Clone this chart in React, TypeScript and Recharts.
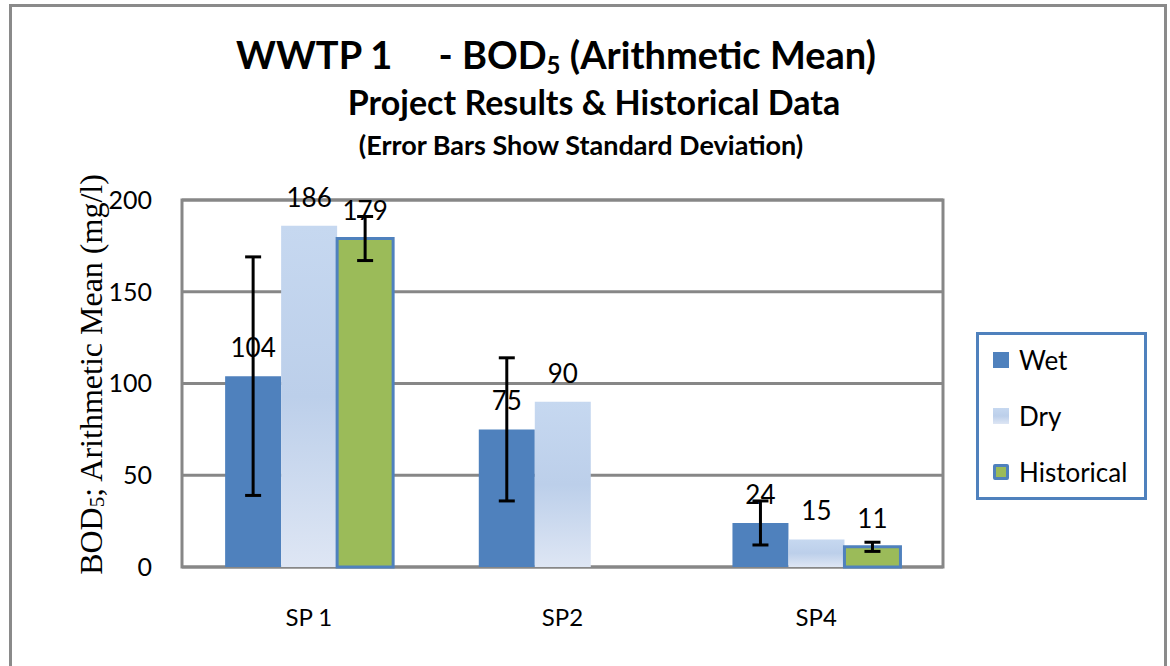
import { BarChart, Bar, XAxis, YAxis, CartesianGrid, ErrorBar, LabelList, ReferenceArea, Legend } from "recharts";

const SITES = ["SP 1", "SP2", "SP4"];
const WET = [104, 75, 24];
const DRY = [186, 90, 15];
const HISTORICAL = [179, null, 11];
const WET_SD = [65, 39, 12];
const HISTORICAL_SD = [12, null, 2.5];
const Y_TICKS = [0, 50, 100, 150, 200];

const data = SITES.map((site, i) => ({
  site,
  wet: WET[i],
  dry: DRY[i],
  historical: HISTORICAL[i],
  wetSd: WET_SD[i],
  historicalSd: HISTORICAL_SD[i],
}));

const BLUE = "#4f81bd";
const GREEN = "#9bbb59";
const GRID = "#878787";
const SANS = "Lato, 'Open Sans', sans-serif";
const DRY_GRADIENT = "linear-gradient(180deg, #c6d8f0 0%, #bccfea 50%, #dee6f4 100%)";

const LEGEND_ITEMS = [
  { name: "Wet", swatch: { background: BLUE } },
  { name: "Dry", swatch: { background: DRY_GRADIENT } },
  { name: "Historical", swatch: { background: GREEN, border: `3px solid ${BLUE}`, borderRadius: 2 } },
];

function LegendBox() {
  return (
    <div style={{ width: 165, height: 162, border: `3px solid ${BLUE}`, background: "#fff", boxSizing: "content-box", fontFamily: SANS, fontSize: 26, color: "#000" }}>
      {LEGEND_ITEMS.map((item, i) => (
        <div key={item.name} style={{ position: "absolute", left: 17, top: 14 + i * 56, display: "flex", alignItems: "center", height: 28 }}>
          <div style={{ width: 16, height: 16, boxSizing: "border-box", ...item.swatch }} />
          <span style={{ marginLeft: 10, lineHeight: "28px" }}>{item.name}</span>
        </div>
      ))}
    </div>
  );
}

function AxisTitle(props: any) {
  const { viewBox } = props;
  const x = viewBox.x - 31;
  const y = viewBox.y + viewBox.height / 2 - 9;
  return (
    <text x={x} y={y} transform={`rotate(-90, ${x}, ${y})`} textAnchor="middle" dominantBaseline="central"
      fontFamily="'Liberation Serif', 'Times New Roman', serif" fontSize={32} fill="#000">
      BOD<tspan fontSize={21} dy={6}>5</tspan><tspan dy={-6}>; Arithmetic Mean (mg/l)</tspan>
    </text>
  );
}

export default function App() {
  return (
    <div style={{ position: "relative", width: 1170, height: 666, overflow: "hidden", background: "#fff" }}>
      <style>{`body{margin:0}`}</style>
      <div style={{ position: "absolute", left: 9, top: 4, width: 1152, height: 700, border: "3px solid #8a8a8a" }} />
      <div style={{ position: "absolute", left: 0, width: 1170, top: 0, fontFamily: SANS, fontWeight: 700, color: "#000" }}>
        <div style={{ position: "absolute", top: 31, left: 556, transform: "translateX(-50%)", whiteSpace: "nowrap", fontSize: 38 }}>
          WWTP 1&nbsp;&nbsp;&nbsp;&nbsp;&nbsp;- BOD<sub style={{ fontSize: 24, verticalAlign: "-5px" }}>5</sub> (Arithmetic Mean)
        </div>
        <div style={{ position: "absolute", top: 81, left: 594, transform: "translateX(-50%)", whiteSpace: "nowrap", fontSize: 34 }}>
          Project Results &amp; Historical Data
        </div>
        <div style={{ position: "absolute", top: 128, left: 581, transform: "translateX(-50%)", whiteSpace: "nowrap", fontSize: 27 }}>
          (Error Bars Show Standard Deviation)
        </div>
      </div>
      <BarChart width={1170} height={666} data={data} margin={{ top: 200, right: 227, bottom: 69, left: 122 }}
        barCategoryGap="17%" barGap={0} style={{ position: "absolute", left: 0, top: 0 }}>
        <defs>
          <linearGradient id="dryFill" x1="0" y1="0" x2="0" y2="1">
            <stop offset="0%" stopColor="#c6d8f0" />
            <stop offset="50%" stopColor="#bccfea" />
            <stop offset="100%" stopColor="#dee6f4" />
          </linearGradient>
        </defs>
        <CartesianGrid vertical={false} stroke={GRID} strokeWidth={3} />
        <XAxis dataKey="site" height={30} tickLine={false} axisLine={false} tickSize={0} tickMargin={42}
          tick={{ fill: "#000", fontFamily: SANS, fontSize: 24 }} />
        <YAxis domain={[0, 200]} ticks={Y_TICKS} width={60} tickLine={false} axisLine={false} tickSize={0} tickMargin={30}
          tick={{ fill: "#000", fontFamily: SANS, fontSize: 25 }} label={<AxisTitle />} />
        <Bar dataKey="wet" name="Wet" fill={BLUE} isAnimationActive={false}>
          <LabelList dataKey="wet" position="top" offset={19} fill="#000" fontFamily={SANS} fontSize={26} />
          <ErrorBar dataKey="wetSd" width={8} stroke="#000" strokeWidth={3} direction="y" />
        </Bar>
        <Bar dataKey="dry" name="Dry" fill="url(#dryFill)" isAnimationActive={false}>
          <LabelList dataKey="dry" position="top" offset={19} fill="#000" fontFamily={SANS} fontSize={26} />
        </Bar>
        <Bar dataKey="historical" name="Historical" fill={GREEN} stroke={BLUE} strokeWidth={3} isAnimationActive={false}>
          <LabelList dataKey="historical" position="top" offset={19} fill="#000" fontFamily={SANS} fontSize={26} />
          <ErrorBar dataKey="historicalSd" width={8} stroke="#000" strokeWidth={3} direction="y" />
        </Bar>
        <ReferenceArea y1={0} y2={200} fill="none" stroke={GRID} strokeWidth={3} ifOverflow="visible" />
        <Legend layout="horizontal" verticalAlign="middle" content={<LegendBox />}
          wrapperStyle={{ left: 976, top: 332, width: 171, height: 168 }} />
      </BarChart>
    </div>
  );
}
